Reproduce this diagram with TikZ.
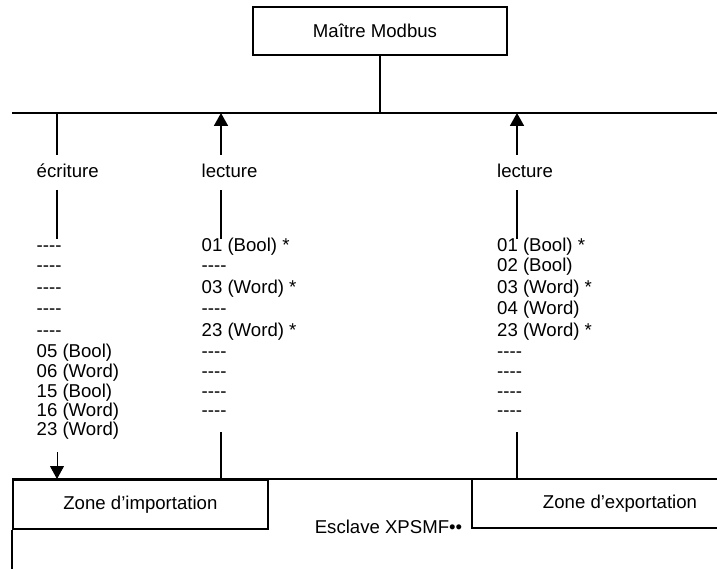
\documentclass[tikz,border=0pt]{standalone}
\usepackage{fontspec}
\setmainfont{Liberation Sans}
\usetikzlibrary{arrows.meta}
\newcommand\dsh{-\kern0pt-\kern0pt-\kern0pt-}
\begin{document}
\begin{tikzpicture}[x=1pt,y=-1pt,
  wire/.style={line width=1.8pt},
  fineline/.style={line width=1pt},
  lbl/.style={inner sep=0pt, anchor=base west, font=\fontsize{18.6}{21}\selectfont},
  ctr/.style={inner sep=0pt, font=\fontsize{18.6}{21}\selectfont},
  tipb/.style={-{Triangle[length=13pt,width=14pt]}}]
\useasboundingbox (0,0) rectangle (717,569);

% master
\node[draw, wire, minimum width=254pt, minimum height=48pt, inner sep=0pt,
      font=\fontsize{18.6}{21}\selectfont] (master) at (380,31) {\hspace*{-10pt}Maître Modbus};
\coordinate (busL) at (12,113);
\coordinate (busR) at (717,113);
\coordinate (busM) at (380,113);
\draw[wire] (busL) -- (busR);
\draw[wire] (master.south) -- (busM);

% write column
\node[lbl] (ecr) at (36.5,178) {écriture};
\coordinate (e1) at (57,113); \coordinate (e2) at (57,155);
\coordinate (e3) at (57,190); \coordinate (e4) at (57,239);
\draw[wire] (e1) -- (e2);
\draw[wire] (e3) -- (e4);

% read column 1
\node[lbl] (lec1) at (201.5,178) {lecture};
\coordinate (a1) at (221,113); \coordinate (a2) at (221,155);
\coordinate (a3) at (221,190); \coordinate (a4) at (221,239);
\draw[wire,tipb] (a2) -- (a1);
\draw[wire] (a4) -- (a3);

% read column 2
\node[lbl] (lec2) at (497,178) {lecture};
\coordinate (b1) at (517,113); \coordinate (b2) at (517,155);
\coordinate (b3) at (517,190); \coordinate (b4) at (517,239);
\draw[wire,tipb] (b2) -- (b1);
\draw[wire] (b4) -- (b3);

% rows
\def\rA{252}\def\rB{272}\def\rC{293}\def\rD{314}\def\rE{336}
\def\rF{357}\def\rG{377}\def\rH{397}\def\rI{416}\def\rJ{435}

\node[lbl] (l1) at (36.5,\rA) {\dsh};
\node[lbl] (l2) at (36.5,\rB) {\dsh};
\node[lbl] (l3) at (36.5,\rC) {\dsh};
\node[lbl] (l4) at (36.5,\rD) {\dsh};
\node[lbl] (l5) at (36.5,\rE) {\dsh};
\node[lbl] (l6) at (36.5,\rF) {05 (Bool)};
\node[lbl] (l7) at (36.5,\rG) {06 (Word)};
\node[lbl] (l8) at (36.5,\rH) {15 (Bool)};
\node[lbl] (l9) at (36.5,\rI) {16 (Word)};
\node[lbl] (l10) at (36.5,\rJ) {23 (Word)};

\node[lbl] (m1) at (201.5,\rA) {01 (Bool) *};
\node[lbl] (m2) at (201.5,\rB) {\dsh};
\node[lbl] (m3) at (201.5,\rC) {03 (Word) *};
\node[lbl] (m4) at (201.5,\rD) {\dsh};
\node[lbl] (m5) at (201.5,\rE) {23 (Word) *};
\node[lbl] (m6) at (201.5,\rF) {\dsh};
\node[lbl] (m7) at (201.5,\rG) {\dsh};
\node[lbl] (m8) at (201.5,\rH) {\dsh};
\node[lbl] (m9) at (201.5,\rI) {\dsh};

\node[lbl] (r1) at (497,\rA) {01 (Bool) *};
\node[lbl] (r2) at (497,\rB) {02 (Bool)};
\node[lbl] (r3) at (497,\rC) {03 (Word) *};
\node[lbl] (r4) at (497,\rD) {04 (Word)};
\node[lbl] (r5) at (497,\rE) {23 (Word) *};
\node[lbl] (r6) at (497,\rF) {\dsh};
\node[lbl] (r7) at (497,\rG) {\dsh};
\node[lbl] (r8) at (497,\rH) {\dsh};
\node[lbl] (r9) at (497,\rI) {\dsh};

% slave
\coordinate (sL) at (12,479);
\coordinate (sR) at (717,479);
\draw[wire] (sL) -- (sR);
\node[draw, wire, anchor=north west, minimum width=255pt, minimum height=49pt,
      inner sep=0pt, font=\fontsize{18.6}{21}\selectfont] (imp) at (12,479) {Zone d’importation};
\coordinate (sBL) at (12,569);
\draw[wire] (imp.south west) -- (sBL);

\coordinate (xTL) at (472,479);
\coordinate (xBL) at (472,528);
\coordinate (xBR) at (717,528);
\draw[wire] (xTL) -- (xBL) -- (xBR);
\node[ctr] (exp) at (620,503.5) {Zone d’exportation};
\node[ctr, anchor=base] (slave) at (388.5,533) {Esclave XPSMF••};

% links to slave
\coordinate (w1) at (57,452); \coordinate (w2) at (57,479);
\draw[fineline,tipb] (w1) -- (w2);
\coordinate (p1) at (221,432); \coordinate (p2) at (221,479);
\draw[wire] (p1) -- (p2);
\coordinate (q1) at (517,432); \coordinate (q2) at (517,479);
\draw[wire] (q1) -- (q2);
\end{tikzpicture}
\end{document}
